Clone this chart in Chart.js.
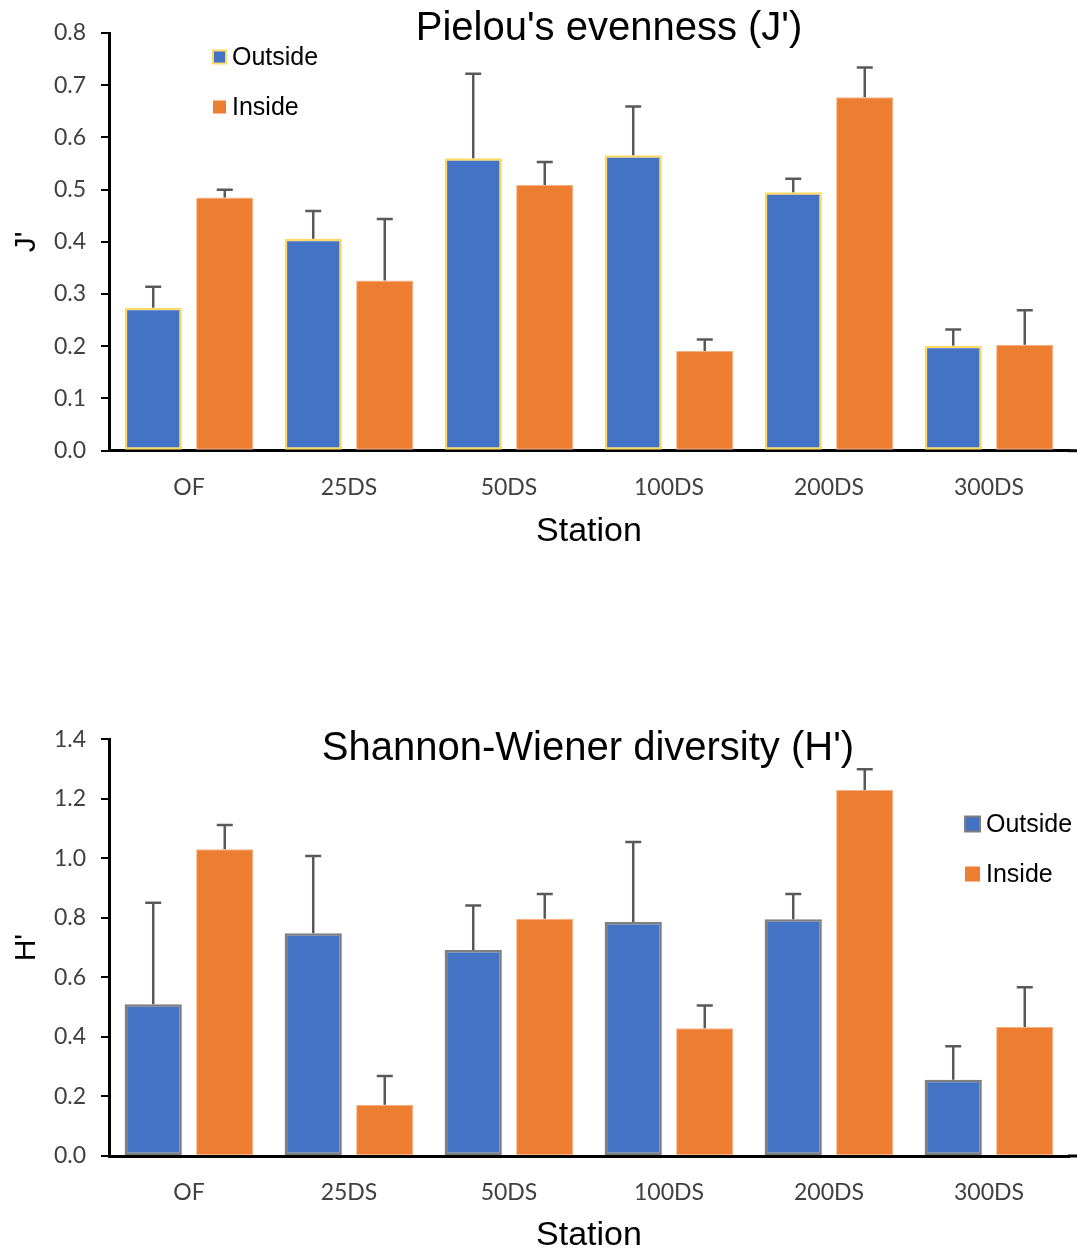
<!DOCTYPE html>
<html>
<head>
<meta charset="utf-8">
<script src="https://cdn.jsdelivr.net/npm/chart.js@4.4.1/dist/chart.umd.min.js"></script>
<style>
  html, body { margin: 0; padding: 0; background: #fff; overflow: hidden; }
  #wrap { position: relative; width: 1077px; height: 1250px; }
  canvas { position: absolute; left: 0; }
  #chartJ { top: 0; }
  #chartH { top: 610px; }
</style>
</head>
<body>
<div id="wrap">
  <canvas id="chartJ" width="1077" height="560"></canvas>
  <canvas id="chartH" width="1077" height="650"></canvas>
</div>
<script>
// stations and values
const stations = ['OF', '25DS', '50DS', '100DS', '200DS', '300DS'];

// Pielou's evenness (J')
const jOutside    = [0.274, 0.406, 0.560, 0.566, 0.495, 0.201];
const jOutsideErr = [0.040, 0.053, 0.162, 0.093, 0.026, 0.031];
const jInside     = [0.485, 0.326, 0.509, 0.191, 0.677, 0.203];
const jInsideErr  = [0.015, 0.118, 0.044, 0.022, 0.057, 0.066];

// Shannon-Wiener diversity (H')
const hOutside    = [0.510, 0.748, 0.692, 0.786, 0.795, 0.256];
const hOutsideErr = [0.341, 0.260, 0.150, 0.269, 0.085, 0.113];
const hInside     = [1.031, 0.172, 0.797, 0.429, 1.230, 0.433];
const hInsideErr  = [0.081, 0.097, 0.083, 0.077, 0.069, 0.134];

const BLUE = '#4472C4';
const ORANGE = '#ED7D31';
const TICK_FONT = { family: 'Lato', size: 23 };

// error bars, titles and legend drawn on top of the chart
function extrasPlugin(opts) {
    return {
        id: 'extras',
        afterDatasetsDraw(chart) {
            const ctx = chart.ctx;
            const yScale = chart.scales.y;
            ctx.save();
            ctx.strokeStyle = '#595959';
            ctx.lineWidth = 2.5;
            chart.data.datasets.forEach(function (ds, i) {
                const meta = chart.getDatasetMeta(i);
                meta.data.forEach(function (bar, j) {
                    const top = yScale.getPixelForValue(ds.data[j] + ds.errors[j]);
                    ctx.beginPath();
                    ctx.moveTo(bar.x, bar.y);
                    ctx.lineTo(bar.x, top);
                    ctx.moveTo(bar.x - 8, top);
                    ctx.lineTo(bar.x + 8, top);
                    ctx.stroke();
                });
            });
            ctx.restore();
        },
        afterDraw(chart) {
            const ctx = chart.ctx;
            const area = chart.chartArea;
            const y0 = chart.scales.y.getPixelForValue(0);
            ctx.save();
            // axis line runs on to the right edge
            ctx.strokeStyle = '#000';
            ctx.lineWidth = 3;
            ctx.beginPath();
            ctx.moveTo(area.right - 1, y0);
            ctx.lineTo(chart.width, y0);
            ctx.stroke();

            // title
            ctx.fillStyle = '#000';
            ctx.font = '40px "Liberation Sans", Arial, sans-serif';
            ctx.textAlign = 'center';
            ctx.textBaseline = 'middle';
            ctx.fillText(opts.title, opts.titleX, opts.titleY);

            // legend
            const lg = opts.legend;
            ctx.font = '25px "Liberation Sans", Arial, sans-serif';
            ctx.textAlign = 'left';
            chart.data.datasets.forEach(function (ds, i) {
                const cy = lg.y + i * lg.gap;
                ctx.fillStyle = ds.backgroundColor;
                ctx.fillRect(lg.x, cy - lg.box / 2, lg.box, lg.box);
                if (ds.borderWidth > 1) {
                    ctx.strokeStyle = ds.borderColor;
                    ctx.lineWidth = 2;
                    ctx.strokeRect(lg.x, cy - lg.box / 2, lg.box, lg.box);
                }
                ctx.fillStyle = '#000';
                ctx.fillText(ds.label, lg.x + lg.box + 6, cy + 1);
            });
            ctx.restore();
        }
    };
}

function makeChart(id, cfg) {
    const ctx = document.getElementById(id).getContext('2d');
    return new Chart(ctx, {
        type: 'bar',
        data: {
            labels: stations,
            datasets: [{
                label: 'Outside',
                data: cfg.outside,
                errors: cfg.outsideErr,
                backgroundColor: BLUE,
                borderColor: cfg.outsideBorder,
                borderWidth: 2.5,
                borderSkipped: false
            }, {
                label: 'Inside',
                data: cfg.inside,
                errors: cfg.insideErr,
                backgroundColor: ORANGE,
                borderColor: '#F4B183',
                borderWidth: 1,
                borderSkipped: false
            }]
        },
        options: {
            responsive: false,
            animation: false,
            categoryPercentage: 0.894,
            barPercentage: 0.8,
            layout: {
                padding: { top: cfg.padTop, right: 8, left: 0, bottom: 0 }
            },
            plugins: {
                legend: { display: false },
                title: { display: false },
                tooltip: { enabled: false }
            },
            scales: {
                x: {
                    grid: { display: false, drawTicks: false },
                    border: { display: true, color: '#000', width: 3 },
                    ticks: { font: TICK_FONT, color: '#404040', padding: 23 },
                    title: {
                        display: true,
                        text: 'Station',
                        color: '#000',
                        font: { family: 'Liberation Sans', size: 34 },
                        padding: { top: 0, bottom: cfg.stationPad }
                    },
                    afterFit: function (scale) { scale.height = cfg.xHeight; }
                },
                y: {
                    min: 0,
                    max: cfg.max,
                    grid: { drawOnChartArea: false, drawTicks: true, tickLength: 8, color: '#000', lineWidth: 2 },
                    border: { display: true, color: '#000', width: 3 },
                    ticks: {
                        stepSize: cfg.step,
                        font: TICK_FONT,
                        color: '#404040',
                        padding: 15,
                        callback: function (v) { return v.toFixed(1); }
                    },
                    title: {
                        display: true,
                        text: cfg.yTitle,
                        color: '#000',
                        font: { family: 'Liberation Sans', size: 30 },
                        padding: { top: 9, bottom: 0 }
                    },
                    afterFit: function (scale) { scale.width = 109; }
                }
            }
        },
        plugins: [extrasPlugin(cfg)]
    });
}

makeChart('chartJ', {
    outside: jOutside, outsideErr: jOutsideErr,
    inside: jInside, insideErr: jInsideErr,
    outsideBorder: '#FFD966',
    max: 0.8, step: 0.1,
    yTitle: "J'",
    padTop: 33,
    xHeight: 109.3,
    stationPad: 8,
    title: "Pielou's evenness (J')",
    titleX: 609, titleY: 29,
    legend: { x: 213, y: 57, gap: 50, box: 13 }
});

makeChart('chartH', {
    outside: hOutside, outsideErr: hOutsideErr,
    inside: hInside, insideErr: hInsideErr,
    outsideBorder: '#7F7F7F',
    max: 1.4, step: 0.2,
    yTitle: "H'",
    padTop: 129.3,
    xHeight: 104,
    stationPad: 4,
    title: "Shannon-Wiener diversity (H')",
    titleX: 588, titleY: 139,
    legend: { x: 965, y: 214, gap: 50, box: 15 }
});
</script>
</body>
</html>
